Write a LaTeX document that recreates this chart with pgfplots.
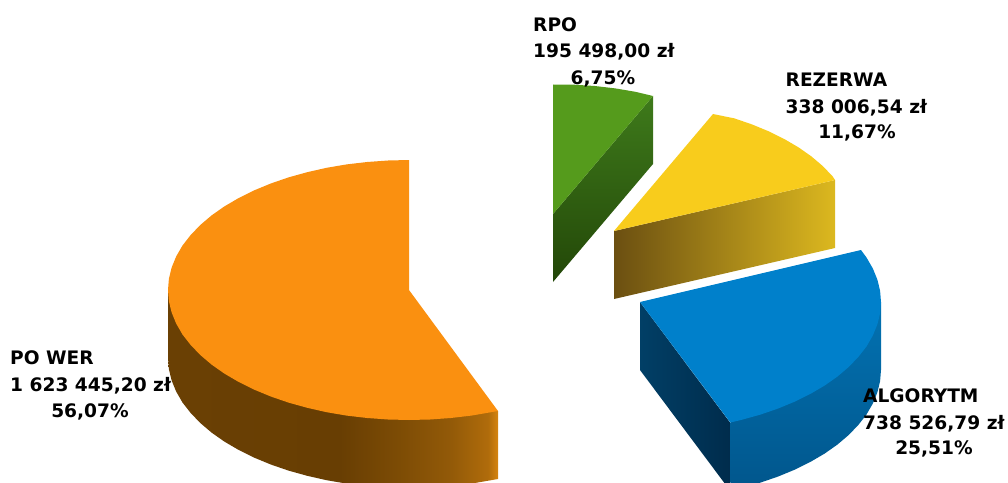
\documentclass[border=0pt]{standalone}
\usepackage{pgfplots}
\pgfplotsset{compat=1.18}
\usepackage{fontspec}
\newfontfamily\lab{DejaVu Sans}
\newcommand{\lbl}[1]{{\lab\bfseries\fontsize{18.6bp}{24bp}\selectfont #1}}
\definecolor{otop}{HTML}{FA9010}
\definecolor{gtop}{HTML}{559B1C}
\definecolor{ytop}{HTML}{F8CC1C}
\definecolor{btop}{HTML}{0080CB}
\definecolor{oa}{HTML}{6A4004}
\definecolor{ob}{HTML}{683E03}
\definecolor{oc}{HTML}{7D4C05}
\definecolor{od}{HTML}{935A08}
\definecolor{oe}{HTML}{B06C0B}
\definecolor{of}{HTML}{D6840F}
\definecolor{ba}{HTML}{0272B2}
\definecolor{bb}{HTML}{01568C}
\definecolor{ga}{HTML}{3E7A1B}
\definecolor{gb}{HTML}{234708}
\definecolor{ya}{HTML}{6B4F11}
\definecolor{yb}{HTML}{DCB81F}
\definecolor{ca}{HTML}{013F66}
\definecolor{cb}{HTML}{002C4C}
\pgfdeclarehorizontalshading{owall}{100bp}{color(0bp)=(oa);color(25bp)=(oa);color(51bp)=(ob);color(60bp)=(oc);color(68bp)=(od);color(73.5bp)=(oe);color(75bp)=(of);color(100bp)=(of)}
\begin{document}
\begin{tikzpicture}
\useasboundingbox (0,0) rectangle (1008bp,483bp);
\begin{axis}[at={(0,0)},anchor=south west,scale only axis,width=1008bp,height=483bp,
  xmin=0,xmax=1008,ymin=0,ymax=483,y dir=reverse,hide axis,clip=true,no markers]
% PO WER wall
\addplot[shading=owall,draw=none] coordinates {(168,290)(168,358)(168.9,369.3)(171.7,380.6)(176.2,391.6)(182.5,402.5)(190.6,412.9)(200.3,423)(211.6,432.6)(224.4,441.6)(238.6,449.9)(254.1,457.6)(270.8,464.5)(288.5,470.6)(307.2,475.8)(326.6,480.2)(346.6,483.6)(367.2,486)(388,487.5)(409,488)(430,487.5)(450.8,486)(471.4,483.6)(498,479)(498,411)} --cycle;
% PO WER top
\addplot[fill=otop,draw=none] coordinates {(409,290)(409,160)(388,160.5)(367.2,162)(346.6,164.4)(326.6,167.8)(307.2,172.2)(288.5,177.4)(270.8,183.5)(254.1,190.4)(238.6,198.1)(224.4,206.4)(211.6,215.4)(200.3,225)(190.6,235.1)(182.5,245.5)(176.2,256.4)(171.7,267.4)(168.9,278.7)(168,290)(168.9,301.3)(171.7,312.6)(176.2,323.6)(182.5,334.5)(190.6,344.9)(200.3,355)(211.6,364.6)(224.4,373.6)(238.6,381.9)(254.1,389.6)(270.8,396.5)(288.5,402.6)(307.2,407.8)(326.6,412.2)(346.6,415.6)(367.2,418)(388,419.5)(409,420)(430,419.5)(450.8,418)(471.4,415.6)(498,411)} --cycle;
% RPO
\addplot[top color=ga,bottom color=gb,draw=none] coordinates {(653,96)(553,214)(553,282)(653,164)} --cycle;
\addplot[fill=gtop,draw=none] coordinates {(553,214)(553,84.5)(574,84.7)(594.8,86)(615.4,88.4)(635.4,91.8)(653,96)} --cycle;
% REZERWA
\addplot[left color=ya,right color=yb,draw=none] coordinates {(614,231)(835,180)(835,248)(614,299)} --cycle;
\addplot[fill=ytop,draw=none] coordinates {(614,231)(713,114)(734.5,118.4)(752.2,124.5)(768.9,131.4)(784.4,139.1)(798.6,147.4)(811.4,156.4)(822.7,166)(832.4,176.1)(835,180)} --cycle;
% ALGORYTM
\addplot[left color=ca,right color=cb,draw=none] coordinates {(640,302)(730,422.5)(730,490.5)(640,370)} --cycle;
\addplot[top color=ba,bottom color=bb,draw=none] coordinates {(881,302)(881,370)(880.1,381.3)(877.3,392.6)(872.8,403.6)(866.5,414.5)(858.4,424.9)(848.7,435)(837.4,444.6)(824.6,453.6)(810.4,461.9)(794.9,469.6)(778.2,476.5)(760.5,482.6)(741.8,487.8)(730.3,490.5)(730.3,422.5)} --cycle;
\addplot[fill=btop,draw=none] coordinates {(640,302)(861,250)(866.5,257.5)(872.8,268.4)(877.3,279.4)(880.1,290.7)(881,302)(880.1,313.3)(877.3,324.6)(872.8,335.6)(866.5,346.5)(858.4,356.9)(848.7,367)(837.4,376.6)(824.6,385.6)(810.4,393.9)(794.9,401.6)(778.2,408.5)(760.5,414.6)(741.8,419.8)(730.3,422.5)} --cycle;
% labels
\node[anchor=base west,inner sep=0pt] at (axis cs:533,32) {\lbl{RPO}};
\node[anchor=base west,inner sep=0pt] at (axis cs:533,58) {\lbl{195 498,00 zł}};
\node[anchor=base,inner sep=0pt] at (axis cs:603,85) {\lbl{6,75\%}};
\node[anchor=base west,inner sep=0pt] at (axis cs:785.5,87) {\lbl{REZERWA}};
\node[anchor=base west,inner sep=0pt] at (axis cs:785.5,113) {\lbl{338 006,54 zł}};
\node[anchor=base,inner sep=0pt] at (axis cs:857,138) {\lbl{11,67\%}};
\node[anchor=base west,inner sep=0pt] at (axis cs:863,402) {\lbl{ALGORYTM}};
\node[anchor=base west,inner sep=0pt] at (axis cs:863,429) {\lbl{738 526,79 zł}};
\node[anchor=base,inner sep=0pt] at (axis cs:934,454) {\lbl{25,51\%}};
\node[anchor=base west,inner sep=0pt] at (axis cs:10,364) {\lbl{PO WER}};
\node[anchor=base west,inner sep=0pt] at (axis cs:10,391) {\lbl{1 623 445,20 zł}};
\node[anchor=base,inner sep=0pt] at (axis cs:90,417) {\lbl{56,07\%}};
\end{axis}
\end{tikzpicture}
\end{document}
